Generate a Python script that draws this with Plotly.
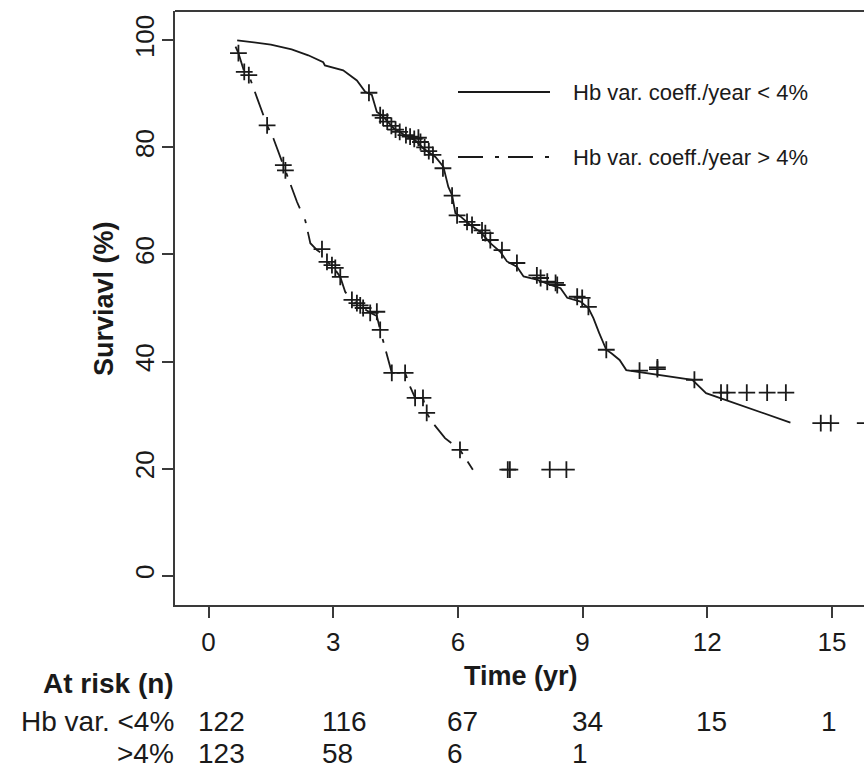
import plotly.graph_objects as go

# ---------------- data ----------------
# Hb var. coeff./year < 4%  (survival curve)
low_t = [0.69, 1.5, 2.0, 2.4, 2.76, 2.8, 3.24, 3.57, 3.77, 3.93, 4.05, 4.17, 4.45, 4.78, 4.98,
         5.17, 5.46, 5.65, 5.77, 5.86, 5.94, 6.06, 6.30, 6.54, 6.78, 7.02, 7.18, 7.42, 7.58,
         7.90, 8.23, 8.47, 8.63, 8.95, 9.14, 9.26, 9.4, 9.57, 9.7, 9.89, 10.05, 11.64, 11.97, 14.0]
low_s = [100, 99.2, 98.3, 97.2, 95.9, 95.3, 94.4, 92.5, 90.4, 89.8, 86.6, 86.0, 83.6, 82.0, 81.3,
         79.8, 78.2, 76.4, 72.6, 71.1, 67.7, 67.1, 65.5, 64.2, 62.1, 60.5, 58.7, 57.7, 55.9,
         55.3, 54.3, 53.7, 51.9, 51.2, 50.0, 48.1, 45.3, 42.2, 41.5, 40.3, 38.4, 36.6, 34.1, 28.6]
low_cens_t = [3.86, 4.13, 4.2, 4.3, 4.4, 4.5, 4.6, 4.75, 4.85, 4.95, 5.05, 5.1, 5.2, 5.3, 5.4,
              5.64, 5.86, 5.98, 6.22, 6.34, 6.58, 6.66, 6.78, 7.06, 7.42, 7.9, 7.99, 8.15, 8.35,
              8.39, 8.87, 8.99, 9.14, 9.57, 10.37, 10.8, 10.8, 11.69, 12.33, 12.48, 12.95, 13.44,
              13.89, 14.73, 14.97, 15.8]
low_cens_s = [90.2, 86.0, 85.5, 84.8, 84.0, 83.3, 82.9, 82.3, 82.0, 81.6, 81.8, 81.0, 80.0, 79.3, 78.6,
              76.1, 71.0, 67.3, 66.1, 65.5, 64.5, 64.0, 62.7, 60.8, 58.4, 56.1, 55.6, 54.9, 54.7,
              54.3, 52.1, 51.9, 50.2, 42.2, 38.3, 38.6, 38.9, 36.6, 34.2, 34.2, 34.2, 34.2,
              34.2, 28.5, 28.5, 28.5]

# Hb var. coeff./year > 4%
high_t = [0.65, 0.72, 0.86, 0.97, 1.17, 1.41, 1.56, 1.8, 1.85, 2.13, 2.33, 2.45, 2.61, 2.73, 2.85,
          2.97, 3.17, 3.29, 3.45, 3.57, 3.72, 3.89, 4.05, 4.13, 4.29, 4.37, 4.41, 4.73, 4.85,
          4.97, 5.16, 5.25, 5.37, 5.69, 6.05, 6.36]
high_s = [98.8, 97.6, 94.1, 93.5, 89.2, 84.1, 81.7, 76.7, 75.7, 69.8, 66.3, 62.1, 60.8, 60.2, 58.6,
          58.0, 55.8, 53.0, 51.5, 50.9, 50.0, 49.1, 48.5, 45.9, 41.6, 39.0, 37.9, 37.9, 35.3,
          33.2, 33.2, 30.4, 28.8, 25.7, 23.5, 19.8]
high_cens_t = [0.72, 0.86, 0.97, 1.41, 1.8, 1.85, 2.73, 2.85, 2.97, 3.05, 3.17, 3.45, 3.57, 3.65,
               3.72, 3.89, 4.05, 4.13, 4.41, 4.73, 4.97, 5.16, 5.25, 6.05, 7.2, 7.25, 8.21, 8.61]
high_cens_s = [97.6, 94.1, 93.5, 84.1, 76.7, 75.7, 61.0, 58.6, 58.0, 57.5, 55.8, 51.5, 50.9, 50.5,
               50.0, 49.1, 49.3, 45.9, 37.9, 37.9, 33.2, 33.2, 30.4, 23.5, 19.8, 19.8, 19.8, 19.8]

x_ticks = [0, 3, 6, 9, 12, 15]
y_ticks = [0, 20, 40, 60, 80, 100]
risk_times = [0, 3, 6, 9, 12, 15]
risk_low = ["122", "116", "67", "34", "15", "1"]
risk_high = ["123", "58", "6", "1"]
legend_labels = ["Hb var. coeff./year < 4%", "Hb var. coeff./year > 4%"]

# ---------------- figure ----------------
W, H = 864, 773
ML, MR, MT, MB = 175, 0, 11, 168
PW, PH = W - ML - MR, H - MT - MB
FONT = "Liberation Sans, Arial, sans-serif"
INK = "#1a1a1a"
AXC = "#3a3a3a"
DASHDOT = "25px,12px,4px,9px"


def px_x(px):
    return (px - ML) / PW


def px_y(py):
    return (H - MB - py) / PH


fig = go.Figure()
fig.add_trace(go.Scatter(x=low_t, y=low_s, mode="lines",
                         line=dict(color=INK, width=1.8), showlegend=False, hoverinfo="skip"))
fig.add_trace(go.Scatter(x=high_t, y=high_s, mode="lines",
                         line=dict(color=INK, width=1.8, dash=DASHDOT), showlegend=False, hoverinfo="skip"))
for ct, cs in [(low_cens_t, low_cens_s), (high_cens_t, high_cens_s)]:
    fig.add_trace(go.Scatter(x=ct, y=cs, mode="markers",
                             marker=dict(symbol="cross-thin", size=12,
                                         line=dict(color=INK, width=1.8)),
                             showlegend=False, hoverinfo="skip"))

annotations = []
shapes = []
# top border of box
shapes.append(dict(type="line", xref="paper", yref="paper", x0=0, x1=1, y0=1, y1=1,
                   line=dict(color=AXC, width=2)))
# legend
for i, (lbl, dash) in enumerate(zip(legend_labels, ["solid", DASHDOT])):
    ly = [92, 157][i]
    shapes.append(dict(type="line", xref="paper", yref="paper",
                       x0=px_x(458), x1=px_x(550), y0=px_y(ly), y1=px_y(ly),
                       line=dict(color=INK, width=2.2, dash=dash)))
    annotations.append(dict(text=lbl, xref="paper", yref="paper", x=px_x(571), y=px_y(ly),
                            xanchor="left", yanchor="middle", showarrow=False,
                            font=dict(family=FONT, size=22, color=INK)))

# axis titles
annotations.append(dict(text="<b>Surviavl (%)</b>", xref="paper", yref="paper",
                        x=px_x(104), y=px_y(299), textangle=-90, showarrow=False,
                        xanchor="center", yanchor="middle",
                        font=dict(family=FONT, size=27, color=INK)))
annotations.append(dict(text="<b>Time (yr)</b>", xref="paper", yref="paper",
                        x=px_x(521), y=px_y(676), showarrow=False,
                        xanchor="center", yanchor="middle",
                        font=dict(family=FONT, size=27, color=INK)))
annotations.append(dict(text="<b>At risk (n)</b>", xref="paper", yref="paper",
                        x=px_x(176), y=px_y(683), showarrow=False,
                        xanchor="right", yanchor="middle",
                        font=dict(family=FONT, size=28, color=INK)))
# risk table
annotations.append(dict(text="Hb var. <4%", xref="paper", yref="paper",
                        x=px_x(176), y=px_y(721), showarrow=False,
                        xanchor="right", yanchor="middle",
                        font=dict(family=FONT, size=28, color=INK)))
annotations.append(dict(text=">4%", xref="paper", yref="paper",
                        x=px_x(176), y=px_y(753), showarrow=False,
                        xanchor="right", yanchor="middle",
                        font=dict(family=FONT, size=28, color=INK)))
for t, v in zip(risk_times, risk_low):
    annotations.append(dict(text=v, xref="x", yref="paper", x=t, y=px_y(721), xshift=-13,
                            showarrow=False, xanchor="left", yanchor="middle",
                            font=dict(family=FONT, size=28, color=INK)))
for t, v in zip(risk_times, risk_high):
    annotations.append(dict(text=v, xref="x", yref="paper", x=t, y=px_y(753), xshift=-13,
                            showarrow=False, xanchor="left", yanchor="middle",
                            font=dict(family=FONT, size=28, color=INK)))

fig.update_layout(
    width=W, height=H,
    margin=dict(l=ML, r=MR, t=MT, b=MB, pad=0),
    paper_bgcolor="white", plot_bgcolor="white",
    showlegend=False,
    shapes=shapes, annotations=annotations,
    xaxis=dict(range=[-0.806, 15.77], tickvals=x_ticks, ticktext=[str(v) for v in x_ticks],
               ticks="outside", ticklen=11, tickwidth=2, tickcolor=AXC,
               showline=True, linewidth=2, linecolor=AXC, showgrid=False, zeroline=False,
               tickfont=dict(family=FONT, size=26, color=INK), ticklabelstandoff=2),
    yaxis=dict(range=[-5.47, 105.47], tickvals=y_ticks, ticktext=[str(v) for v in y_ticks],
               tickangle=-90,
               ticks="outside", ticklen=11, tickwidth=2, tickcolor=AXC,
               showline=True, linewidth=2, linecolor=AXC, showgrid=False, zeroline=False,
               tickfont=dict(family=FONT, size=26, color=INK), ticklabelstandoff=-2),
)

fig.write_html("out.html")
